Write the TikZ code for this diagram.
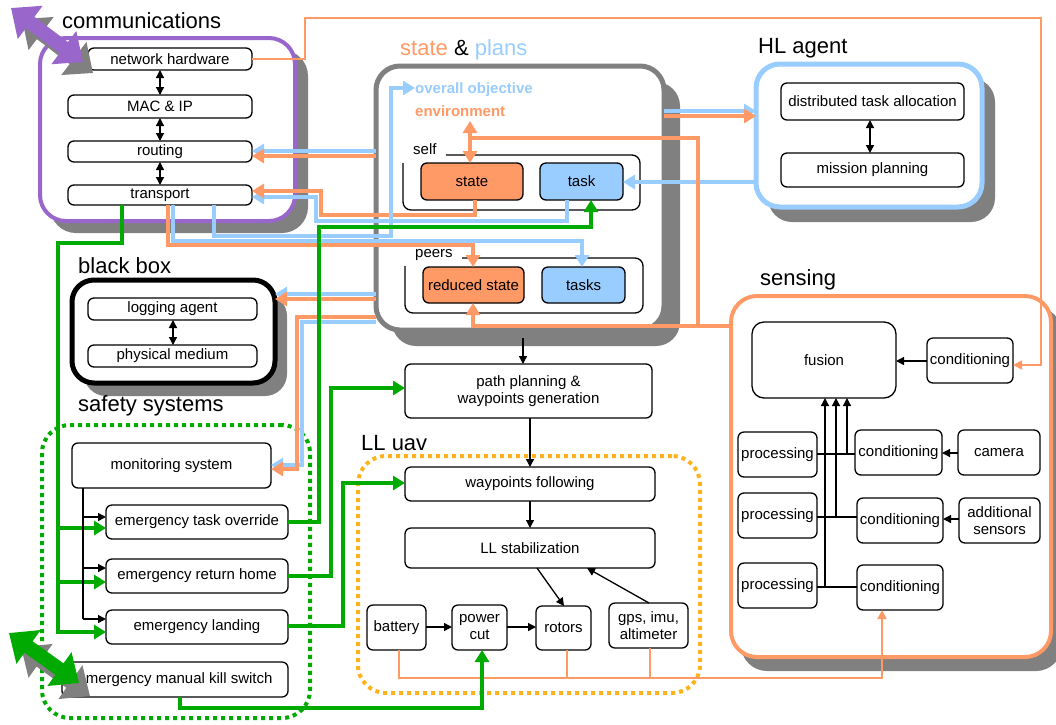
\documentclass[tikz,border=0pt]{standalone}
\usepackage{fontspec}
\setmainfont{Liberation Sans}
\usetikzlibrary{arrows.meta}
\definecolor{org}{HTML}{FF9966}
\definecolor{lblue}{HTML}{99CCFF}
\definecolor{grn}{HTML}{00AA00}
\definecolor{purp}{HTML}{9966CC}
\definecolor{llo}{HTML}{FFB21A}
\definecolor{shad}{HTML}{808080}
\newcommand\lbl{\fontsize{15}{17}\selectfont}
\newcommand\ttl{\fontsize{22}{26}\selectfont}
\newcommand\mkbox[7]{\node[#1, minimum width={(#5-#3)*1pt}, minimum height={(#6-#4)*1pt}] (#2) at ({(#3+#5)/2},{(#4+#6)/2}) {#7};}
\tikzset{
  box/.style={draw, line width=1.3pt, rounded corners=6pt, fill=white, inner sep=0pt, outer sep=0pt, align=center, font=\lbl},
  cont/.style={draw, rounded corners=26pt, fill=white, inner sep=0pt, outer sep=0pt},
  ttlnode/.style={anchor=base west, inner sep=0pt, font=\ttl},
  smalltxt/.style={anchor=base west, inner sep=0pt, font=\lbl},
  ka/.style={line width=1.3pt, -{Triangle[width=8pt,length=8pt]}},
  kda/.style={line width=1.3pt, {Triangle[width=8pt,length=8pt]}-{Triangle[width=8pt,length=8pt]}},
  ba/.style={lblue, line width=4pt, -{Triangle[width=14pt,length=12pt]}},
  oa/.style={org, line width=4pt, -{Triangle[width=14pt,length=12pt]}},
  oda/.style={org, line width=4pt, {Triangle[width=14pt,length=12pt]}-{Triangle[width=14pt,length=12pt]}},
  ol/.style={org, line width=4pt},
  ga/.style={grn, line width=4pt, -{Triangle[width=14pt,length=12pt]}},
  tol/.style={org, line width=1.5pt},
  toa/.style={org, line width=1.5pt, -{Triangle[width=9pt,length=9pt]}},
  bigarrow/.style={line width=14pt, {Triangle[width=40pt,length=24pt]}-{Triangle[width=40pt,length=24pt]}},
  dotbox/.style={line width=4pt, dash pattern=on 4pt off 4pt, rounded corners=28pt, inner sep=0pt, outer sep=0pt},
}
\begin{document}
\begin{tikzpicture}[x=1pt,y=-1pt]
\useasboundingbox (0,0) rectangle (1056,724);
% shadows
\fill[shad, rounded corners=26pt] (50,50) rectangle (308,233);
\fill[shad, rounded corners=24pt] (392,82) rectangle (680,346);
\fill[shad, rounded corners=24pt] (768,78) rectangle (995,222);
\fill[shad, rounded corners=22pt] (84,294) rectangle (287,396);
\fill[shad, rounded corners=26pt] (741,307) rectangle (1062,671);
% containers
\mkbox{cont, draw=purp, line width=4pt}{comm}{40}{38}{295}{221}{}
\mkbox{cont, draw=shad, line width=5pt, rounded corners=24pt}{sp}{376}{66}{664}{330}{}
\mkbox{cont, draw=lblue, line width=5pt, rounded corners=24pt}{hl}{756}{64}{982}{207}{}
\mkbox{cont, draw=black, line width=5pt, rounded corners=22pt}{bb}{72}{280}{275}{383}{}
\mkbox{cont, draw=org, line width=4pt}{sens}{731}{296}{1051}{657}{}
\mkbox{draw=grn, dotbox}{saf}{42}{425}{310}{718}{}
\mkbox{draw=llo, dotbox}{ll}{358}{456}{700}{693}{}
% titles
\node[ttlnode] (tcomm) at (62,28) {communications};
\node[ttlnode] (tsp) at (400,55) {\textcolor{org}{state} \& \textcolor{lblue}{plans}};
\node[ttlnode] (thl) at (758,53) {HL agent};
\node[ttlnode] (tbb) at (78,273) {black box};
\node[ttlnode] (tsens) at (760,285) {sensing};
\node[ttlnode] (tsaf) at (78,411) {safety systems};
\node[ttlnode] (tll) at (361,450) {LL uav};
% communications
\mkbox{box}{nh}{88}{48}{252}{70}{network hardware}
\mkbox{box}{mac}{68}{95}{252}{118}{MAC \& IP}
\mkbox{box}{rout}{68}{141}{252}{162}{routing}
\mkbox{box}{trans}{68}{185}{252}{205}{transport}
% state & plans
\node[smalltxt, font=\lbl\bfseries, text=lblue] (oo) at (415,93) {overall objective};
\node[smalltxt, font=\lbl\bfseries, text=org] (env) at (415,116) {environment};
\node[smalltxt] (self) at (413,154) {self};
\node[smalltxt] (peers) at (415,257) {peers};
\draw[line width=1.3pt, rounded corners=8pt] (446,155) -- (640,155) -- (640,210) -- (403,210) -- (403,163);
\draw[line width=1.3pt, rounded corners=8pt] (462,258) -- (643,258) -- (643,313) -- (405,313) -- (405,266);
\mkbox{box, fill=org}{st}{421}{163}{523}{200}{state}
\mkbox{box, fill=lblue}{tk}{540}{163}{623}{200}{task}
\mkbox{box, fill=org}{rst}{423}{267}{524}{303}{reduced state}
\mkbox{box, fill=lblue}{tks}{542}{267}{625}{303}{tasks}
% HL agent
\mkbox{box}{dta}{781}{83}{964}{120}{distributed task allocation}
\mkbox{box}{mp}{781}{153}{964}{187}{mission planning}
% black box
\mkbox{box}{la}{88}{298}{257}{320}{logging agent}
\mkbox{box}{pm}{88}{345}{257}{367}{physical medium}
% sensing
\mkbox{box, rounded corners=12pt}{fus}{752}{322}{896}{398}{fusion}
\mkbox{box}{c0}{927}{338}{1013}{383}{conditioning}
\mkbox{box}{p1}{738}{432}{817}{477}{processing}
\mkbox{box}{c1}{855}{430}{942}{475}{conditioning}
\mkbox{box}{cam}{958}{430}{1040}{475}{camera}
\mkbox{box}{p2}{738}{493}{817}{538}{processing}
\mkbox{box}{c2}{857}{498}{943}{543}{conditioning}
\mkbox{box}{add}{959}{498}{1040}{543}{additional\\sensors}
\mkbox{box}{p3}{738}{563}{817}{608}{processing}
\mkbox{box}{c3}{857}{565}{943}{610}{conditioning}
% safety
\mkbox{box}{ms}{72}{443}{271}{488}{monitoring system}
\mkbox{box}{eto}{106}{505}{288}{539}{emergency task override}
\mkbox{box}{erh}{106}{559}{288}{593}{emergency return home}
\mkbox{box}{el}{106}{610}{288}{644}{emergency landing}
\mkbox{box}{ek}{62}{662}{288}{697}{emergency manual kill switch}
% LL uav
\mkbox{box}{ppw}{405}{364}{652}{418}{path planning \&\\waypoints generation}
\mkbox{box}{wf}{405}{467}{655}{501}{waypoints following}
\mkbox{box}{lls}{405}{528}{655}{568}{LL stabilization}
\mkbox{box}{bat}{367}{605}{426}{650}{battery}
\mkbox{box}{pc}{452}{605}{507}{650}{power\\cut}
\mkbox{box}{rot}{536}{606}{591}{650}{rotors}
\mkbox{box}{gps}{609}{603}{688}{648}{gps, imu,\\altimeter}
% ---- connectors ----
\draw[kda] (mac.north |- nh.south) -- (mac.north);
\draw[kda] (mac.south) -- (rout.north);
\draw[kda] (rout.south) -- (trans.north);
\draw[kda] (870,0 |- dta.south) -- (870,0 |- mp.north);
\draw[kda] (173,0 |- la.south) -- (173,0 |- pm.north);
% thin orange
\draw[toa] (nh.east) -- (305,0 |- nh.east) -- (305,18) -- (1041,18) -- (1041,365) -- (c0.east |- 0,365);
\draw[tol] (567,0 |- rot.south) -- (567,678);
\draw[tol] (650,0 |- gps.south) -- (650,678);
\draw[toa] (399,0 |- bat.south) -- (399,678) -- (882,678) -- (882,0 |- c3.south);
% routing
\draw[ba] (sp.west |- 0,151) -- (rout.east |- 0,151);
\draw[oa] (sp.west |- 0,156) -- (rout.east |- 0,156);
% transport
\draw[ba] (567,0 |- tk.south) -- (567,221) -- (316,221) -- (316,197) -- (trans.east |- 0,197);
\draw[oa] (475,0 |- st.south) -- (475,215) -- (321,215) -- (321,191) -- (trans.east |- 0,191);
\draw[ba] (214,0 |- trans.south) -- (214,236) -- (391,236) -- (391,88) -- (oo.west |- 0,88);
\draw[ba] (173,0 |- trans.south) -- (173,241) -- (582,241) -- (582,0 |- tks.north);
\draw[oa] (168,0 |- trans.south) -- (168,245) -- (473,245) -- (473,0 |- rst.north);
% black box
\draw[ba] (sp.west |- 0,294) -- (bb.east |- 0,294);
\draw[oa] (sp.west |- 0,299) -- (bb.east |- 0,299);
% monitoring
\draw[ba] (sp.west |- 0,322) -- (302,322) -- (302,465) -- (ms.east |- 0,465);
\draw[oa] (sp.west |- 0,317) -- (297,317) -- (297,469) -- (ms.east |- 0,469);
% HL
\draw[ba] (sp.east |- 0,111) -- (hl.west |- 0,111);
\draw[oa] (sp.east |- 0,116) -- (hl.west |- 0,116);
\draw[ba] (hl.west |- 0,182) -- (tk.east |- 0,182);
% sensing to state
\draw[oa] (sens.west |- 0,326) -- (473,326) -- (473,0 |- rst.south);
\draw[ol] (698,326) -- (698,138) -- (470,138);
\draw[oda] (470,121) -- (470,0 |- st.north);
% to path planning
\draw[ka] (523,338) -- (523,0 |- ppw.north);
% green
\draw[ga] (122,0 |- trans.south) -- (122,243) -- (58,243) -- (58,632) -- (el.west |- 0,632);
\draw[ga] (58,528) -- (eto.west |- 0,528);
\draw[ga] (58,582) -- (erh.west |- 0,582);
\draw[ga] (eto.east |- 0,522) -- (319,522) -- (319,227) -- (591,227) -- (591,0 |- tk.south);
\draw[ga] (erh.east |- 0,576) -- (331,576) -- (331,388) -- (ppw.west |- 0,388);
\draw[ga] (el.east |- 0,626) -- (343,626) -- (343,483) -- (wf.west |- 0,483);
\draw[ga] (180,0 |- ek.south) -- (180,708) -- (482,708) -- (482,0 |- pc.south);
% monitoring black
\draw[line width=1.3pt] (83,0 |- ms.south) -- (83,619);
\draw[ka] (83,517) -- (eto.west |- 0,517);
\draw[ka] (83,568) -- (erh.west |- 0,568);
\draw[ka] (83,619) -- (el.west |- 0,619);
% LL uav
\draw[ka] (530,0 |- ppw.south) -- (530,0 |- wf.north);
\draw[ka] (530,0 |- wf.south) -- (530,0 |- lls.north);
\draw[ka] (537,0 |- lls.south) -- (564,0 |- rot.north);
\draw[ka] (649,0 |- gps.north) -- (587,0 |- lls.south);
\draw[ka] (bat.east |- 0,627) -- (pc.west |- 0,627);
\draw[ka] (pc.east |- 0,627) -- (rot.west |- 0,627);
% sensing
\draw[ka] (c0.west |- 0,361) -- (fus.east |- 0,361);
\draw[ka] (cam.west |- 0,453) -- (c1.east |- 0,453);
\draw[ka] (add.west |- 0,519) -- (c2.east |- 0,519);
\draw[line width=1.3pt] (p1.east |- 0,454) -- (c1.west |- 0,454);
\draw[line width=1.3pt] (p2.east |- 0,517) -- (c2.west |- 0,517);
\draw[line width=1.3pt] (p3.east |- 0,587) -- (c3.west |- 0,587);
\draw[ka] (847,454) -- (847,0 |- fus.south);
\draw[ka] (836,517) -- (836,0 |- fus.south);
\draw[ka] (825,587) -- (825,0 |- fus.south);
% big arrows
\draw[bigarrow, shad] (22,19) -- (93,73);
\draw[bigarrow, purp] (11,8) -- (83,62);
\draw[bigarrow, shad] (21,647) -- (90,696);
\draw[bigarrow, grn] (9,633) -- (79,683);
\end{tikzpicture}
\end{document}
